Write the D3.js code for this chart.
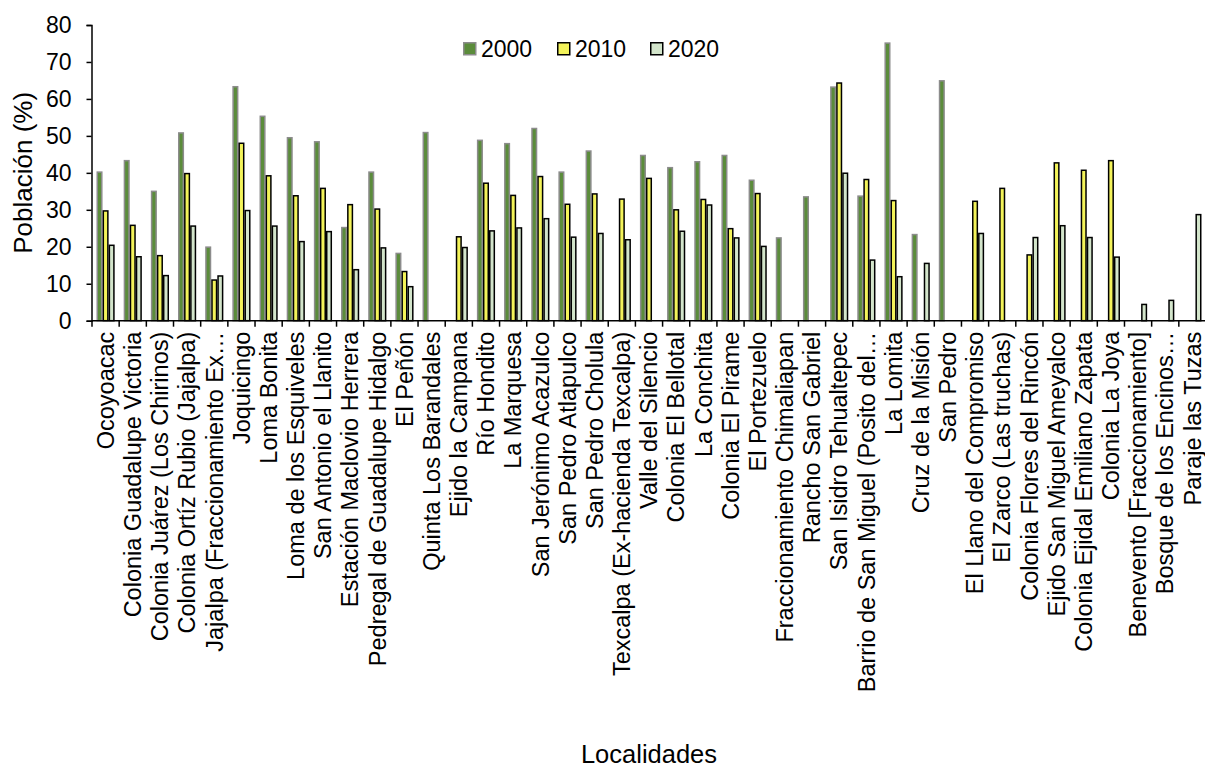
<!DOCTYPE html>
<html lang="es">
<head>
<meta charset="utf-8">
<script src="https://cdn.jsdelivr.net/npm/d3@7"></script>
<style>
  html, body { margin: 0; padding: 0; background: #fff; }
  svg { display: block; font-family: "Liberation Sans", Arial, sans-serif; }
</style>
</head>
<body>
<svg id="chart" width="1205" height="767"></svg>
<script>
// Localidades
const categories = [
  "Ocoyoacac", "Colonia Guadalupe Victoria", "Colonia Juárez (Los Chirinos)",
  "Colonia Ortíz Rubio (Jajalpa)", "Jajalpa (Fraccionamiento Ex…", "Joquicingo",
  "Loma Bonita", "Loma de los Esquiveles", "San Antonio el Llanito",
  "Estación Maclovio Herrera", "Pedregal de Guadalupe Hidalgo", "El Peñón",
  "Quinta Los Barandales", "Ejido la Campana", "Río Hondito", "La Marquesa",
  "San Jerónimo Acazulco", "San Pedro Atlapulco", "San Pedro Cholula",
  "Texcalpa (Ex-hacienda Texcalpa)", "Valle del Silencio", "Colonia El Bellotal",
  "La Conchita", "Colonia El Pirame", "El Portezuelo", "Fraccionamiento Chimaliapan",
  "Rancho San Gabriel", "San Isidro Tehualtepec", "Barrio de San Miguel (Posito del…",
  "La Lomita", "Cruz de la Misión", "San Pedro", "El Llano del Compromiso",
  "El Zarco (Las truchas)", "Colonia Flores del Rincón", "Ejido San Miguel Ameyalco",
  "Colonia Ejidal Emiliano Zapata", "Colonia La Joya", "Benevento [Fraccionamiento]",
  "Bosque de los Encinos…", "Paraje las Tuzas"
];

// Población (%) por año; null = sin dato
const series = ["2000", "2010", "2020"];
const values2000 = [40.2, 43.3, 35.0, 50.8, 19.9, 63.3, 55.3, 49.5, 48.4, 25.2,
  40.2, 18.2, 50.9, null, 48.8, 47.9, 52.0, 40.2, 45.9, null,
  44.7, 41.4, 43.0, 44.7, 38.0, 22.4, 33.5, 63.2, 33.7, 75.1,
  23.3, 64.9, null, null, null, null, null, null, null, null, null];
const values2010 = [29.7, 25.8, 17.6, 39.8, 11.0, 48.0, 39.2, 33.8, 35.8, 31.4,
  30.2, 13.3, null, 22.7, 37.2, 33.9, 39.0, 31.5, 34.3, 32.9,
  38.5, 30.0, 32.8, 24.9, 34.4, null, null, 64.3, 38.2, 32.5,
  null, null, 32.3, 35.8, 17.8, 42.7, 40.7, 43.3, null, null, null];
const values2020 = [20.4, 17.3, 12.2, 25.6, 12.1, 29.8, 25.6, 21.4, 24.1, 13.8,
  19.7, 9.2, null, 19.8, 24.3, 25.1, 27.6, 22.6, 23.6, 21.9,
  null, 24.2, 31.3, 22.4, 20.1, null, null, 39.9, 16.4, 11.9,
  15.5, null, 23.6, null, 22.5, 25.7, 22.5, 17.2, 4.4, 5.5, 28.7];

const yTicks = [0, 10, 20, 30, 40, 50, 60, 70, 80];
const yTitle = "Población (%)";
const xTitle = "Localidades";

const seriesValues = [values2000, values2010, values2020];
const fills = ["#5b8c3b", "#f3f35a", "#d3e5cb"];
const strokes = ["#8c8c8c", "#000000", "#000000"];

const svg = d3.select("#chart");

const x = d3.scaleBand().domain(categories).range([92, 1206]).paddingInner(0).paddingOuter(0);
const xs = d3.scaleBand().domain(series).range([4.5, x.bandwidth() - 4.5]);
const y = d3.scaleLinear().domain([0, 80]).range([320.7, 25]);

// bars
const rows = categories.map((c, i) => ({ cat: c, vals: seriesValues.map(s => s[i]) }));
const groups = svg.append("g").selectAll("g").data(rows).join("g")
  .attr("transform", d => `translate(${x(d.cat)},0)`);
groups.selectAll("rect")
  .data(d => d.vals.map((v, k) => ({ v, k })).filter(e => e.v !== null))
  .join("rect")
  .attr("x", e => xs(series[e.k]) + 0.75)
  .attr("width", xs.bandwidth() - 1.5)
  .attr("y", e => y(e.v))
  .attr("height", e => y(0) - y(e.v))
  .attr("fill", e => fills[e.k])
  .attr("stroke", e => strokes[e.k])
  .attr("stroke-width", 1.5);

// y axis
const yAxis = svg.append("g").attr("transform", "translate(91.5,0)")
  .call(d3.axisLeft(y).tickValues(yTicks).tickSize(5).tickPadding(15).tickFormat(d3.format("d")));
yAxis.select(".domain").attr("stroke", "#000").attr("stroke-width", 1.5);
yAxis.selectAll(".tick line").attr("stroke", "#000").attr("stroke-width", 1.5);
yAxis.selectAll("text").attr("font-size", 23).attr("fill", "#000")
  .attr("font-family", "Liberation Sans, Arial, sans-serif");

// x axis: baseline, boundary ticks and rotated labels
const xAxis = svg.append("g").attr("transform", `translate(0,${y(0)})`)
  .call(d3.axisBottom(x).tickSize(0).tickPadding(0));
xAxis.select(".domain").attr("stroke", "#000").attr("stroke-width", 1.5)
  .attr("d", `M${x.range()[0] - 0.5},0H${x.range()[1]}`);
xAxis.selectAll(".tick text")
  .attr("font-size", 23.5).attr("fill", "#000")
  .attr("font-family", "Liberation Sans, Arial, sans-serif")
  .attr("text-anchor", "end")
  .attr("transform", "translate(0,11) rotate(-90)")
  .attr("x", 0).attr("y", 0).attr("dy", "0.35em");
svg.append("g").selectAll("line").data(categories).join("line")
  .attr("x1", d => x(d)).attr("x2", d => x(d))
  .attr("y1", y(0)).attr("y2", y(0) + 6)
  .attr("stroke", "#000").attr("stroke-width", 1.5);

// axis titles
svg.append("text")
  .attr("transform", `translate(32,${(y(0) + y(80)) / 2}) rotate(-90)`)
  .attr("text-anchor", "middle")
  .attr("font-size", 26)
  .text(yTitle);
svg.append("text")
  .attr("x", 649).attr("y", 763)
  .attr("text-anchor", "middle")
  .attr("font-size", 25.5)
  .text(xTitle);

// legend
const legendX = [463, 557, 650];
const legend = svg.append("g").selectAll("g").data(series).join("g")
  .attr("transform", (d, i) => `translate(${legendX[i]},49)`);
legend.append("rect")
  .attr("x", 0.75).attr("y", -6.25).attr("width", 12).attr("height", 12)
  .attr("fill", (d, i) => fills[i])
  .attr("stroke", (d, i) => strokes[i]).attr("stroke-width", 1.5);
legend.append("text")
  .attr("x", 18).attr("dy", "0.36em")
  .attr("font-size", 23)
  .text(d => d);
</script>
</body>
</html>
